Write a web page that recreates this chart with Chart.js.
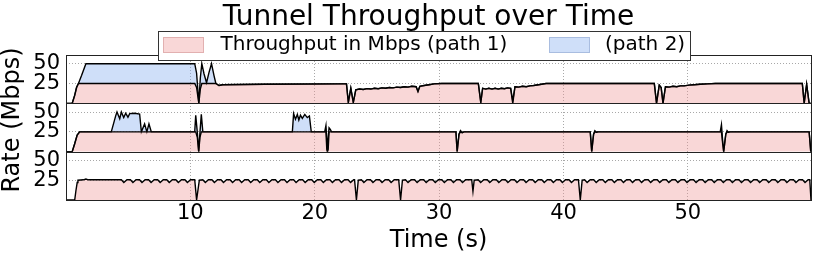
<!DOCTYPE html>
<html>
<head>
<meta charset="utf-8">
<title>Tunnel Throughput over Time</title>
<script src="https://cdn.jsdelivr.net/npm/chart.js@4.4.1/dist/chart.umd.min.js"></script>
<style>
  html, body { margin: 0; padding: 0; background: #fff; }
  #wrap { width: 814px; height: 256px; }
</style>
</head>
<body>
<div id="wrap"><canvas id="tunnelChart" width="814" height="256"></canvas></div>
<script>
// ---------- data (seconds / Mbps) ----------
const xTicks = [10, 20, 30, 40, 50];
const yTicks = [25, 50];

// panel 1
const p1Time = [
  0, 0.5, 0.7, 0.85, 1.0, 1.25, 1.6, 10.35, 10.5, 10.68, 10.8, 10.92, 11.1, 11.3, 11.5, 11.7, 11.9, 12.05,
  12.3, 12.6, 16, 22.3, 22.55, 22.7, 22.9, 23.1, 23.3, 23.6, 23.9, 24.2, 24.5, 24.8, 25.1, 25.4, 25.7,
  26.0, 26.3, 26.6, 26.9, 27.2, 27.5, 27.8, 28.15, 28.3, 28.45, 28.8, 29.2, 29.6, 30.2,
  33.15, 33.35, 33.5, 33.75, 34.0, 34.25, 34.5, 34.75, 35.0, 35.25, 35.5, 35.75, 35.92, 36.1, 36.4,
  36.7, 37.0, 37.3, 37.6, 38.0, 38.6,
  47.3, 47.48, 47.7, 47.85, 48.0, 48.2, 48.5, 48.8, 49.1, 49.4, 49.7, 50.1, 50.5, 51.0, 51.6, 52.2,
  59.2, 59.35, 59.55, 59.75, 59.9
];
const p1Path1 = [
  0, 0, 10, 20, 25, 25, 25, 25, 20, 0, 18, 25, 25, 25, 25, 25, 25, 25,
  22.5, 23.5, 24, 24.5, 24.5, 1, 19, 1, 17, 18, 17.5, 18.5, 18, 19, 18.5, 19.5, 19,
  20, 19.5, 20.5, 20, 21, 20.5, 21.5, 21, 15, 21.5, 22.5, 23.5, 24.5, 25,
  25, 1, 19, 18, 19, 18, 19, 18, 19, 18.5, 19.5, 19, 0, 21, 20.5,
  21.5, 21, 22, 22.5, 23.5, 25,
  25, 0, 23, 20, 0, 21, 20.5, 21.5, 21, 22, 22, 23, 23.5, 24, 24.5, 25,
  25, 0, 24, 0, 0
];
const p1Path2 = [
  0, 0, 0, 0, 0, 10, 25, 25, 18, 0, 14, 25, 12, 1, 14, 25, 10, 0,
  0, 0, 0, 0, 0, 0, 0, 0, 0, 0, 0, 0, 0, 0, 0, 0, 0,
  0, 0, 0, 0, 0, 0, 0, 0, 0, 0, 0, 0, 0, 0,
  0, 0, 0, 0, 0, 0, 0, 0, 0, 0, 0, 0, 3, 0, 0,
  0, 0, 0, 0, 0, 0,
  0, 0, 0, 0, 0, 0, 0, 0, 0, 0, 0, 0, 0, 0, 0, 0,
  0, 0, 0, 0, 0
];

// panel 2
const p2Time = [
  0, 0.5, 0.7, 0.9, 1.1, 3.64, 4.0, 4.1, 4.32, 4.45, 4.64, 4.8, 4.98, 5.12, 5.5, 5.92, 6.06,
  6.32, 6.5, 6.67, 6.86, 10.35, 10.43, 10.56, 10.67, 10.77, 10.88, 11.0,
  18.2, 18.3, 18.45, 18.6, 18.72, 18.85, 19.0, 19.2, 19.4, 19.57, 19.72,
  20.8, 20.9, 20.97, 21.02, 21.08, 21.15, 21.25, 21.35,
  31.35, 31.45, 31.6, 31.72, 31.85, 32.0,
  42.15, 42.27, 42.42, 42.52, 42.65, 42.8,
  52.6, 52.7, 52.8, 52.88, 53.05, 53.15, 53.25, 53.4,
  59.75, 59.88
];
const p2Path1 = [
  0, 0, 10, 21, 25, 25, 25, 25, 25, 25, 25, 25, 25, 25, 25, 25, 25,
  25, 25, 25, 25, 25, 25, 18, 0, 18, 25, 25,
  25, 25, 25, 25, 25, 25, 25, 25, 25, 25, 25,
  25, 25, 3, 0, 3, 25, 25, 25,
  25, 0, 22, 25, 24, 25,
  25, 0, 22, 25, 24.5, 25,
  25, 25, 10, 0, 22, 25, 24.5, 25,
  25, 0
];
const p2Path2 = [
  0, 0, 0, 0, 0, 0, 20.5, 25, 16.5, 25, 18, 23.5, 18.5, 23, 23.5, 22.5, 0,
  10, 0, 10, 0, 0, 21, 6, 0, 6, 22, 0,
  0, 23, 16, 22, 15, 21, 17, 22, 18, 20, 0,
  0, 8, 12, 0, 14, 5, 3, 0,
  0, 0, 0, 1.5, 0, 0,
  0, 0, 0, 1.5, 0, 0,
  0, 9, 3, 0, 0, 1.5, 0, 0,
  0, 0
];

// panel 3 (path 2 stays at zero here)
const p3Time = [
  0, 0.7, 0.8, 0.9, 0.96, 1.4, 1.6, 1.8,
  4.45, 4.65, 4.9, 5.18, 5.38, 5.63, 5.91, 6.11, 6.36, 6.64, 6.84, 7.09,
  7.37, 7.57, 7.82, 8.1, 8.3, 8.55, 8.83, 9.03, 9.28, 9.56, 9.76, 10.01,
  10.35, 10.5, 10.72,
  11.0, 11.2, 11.45, 11.73, 11.93, 12.18, 12.46, 12.66, 12.91, 13.19, 13.39, 13.64,
  13.92, 14.12, 14.37, 14.65, 14.85, 15.1, 15.38, 15.58, 15.83, 16.11, 16.31, 16.56,
  16.84, 17.04, 17.29, 17.57, 17.77, 18.02, 18.3, 18.5, 18.75, 19.03, 19.23, 19.48,
  19.76, 19.96, 20.21, 20.49, 20.69, 20.94, 21.22, 21.42, 21.67, 21.95, 22.15, 22.4,
  22.68, 22.88, 23.13,
  23.2, 23.35, 23.5,
  23.75, 23.95, 24.2, 24.48, 24.68, 24.93, 25.21, 25.41, 25.66, 25.94, 26.14, 26.39,
  26.75, 26.9, 27.05,
  27.3, 27.5, 27.75, 28.03, 28.23, 28.48, 28.76, 28.96, 29.21, 29.49, 29.69, 29.94,
  30.22, 30.42, 30.67, 30.95, 31.15, 31.4, 31.68, 31.88, 32.13,
  32.62, 32.72, 32.82,
  33.14, 33.34, 33.59, 33.87, 34.07, 34.32, 34.6, 34.8, 35.05, 35.33, 35.53, 35.78,
  36.06, 36.26, 36.51, 36.79, 36.99, 37.24, 37.52, 37.72, 37.97, 38.25, 38.45, 38.7,
  38.98, 39.18, 39.43, 39.71, 39.91, 40.16, 40.44, 40.64, 40.89,
  41.2, 41.35, 41.5,
  41.7, 41.9, 42.15, 42.43, 42.63, 42.88, 43.16, 43.36, 43.61, 43.89, 44.09, 44.34,
  44.62, 44.82, 45.07, 45.35, 45.55, 45.8, 46.08, 46.28, 46.53, 46.81, 47.01, 47.26,
  47.54, 47.74, 47.99, 48.27, 48.47, 48.72, 49.0, 49.2, 49.45, 49.73, 49.93, 50.18,
  50.46, 50.66, 50.91, 51.19, 51.39, 51.64, 51.92, 52.12, 52.37, 52.65, 52.85, 53.1,
  53.38, 53.58, 53.83, 54.11, 54.31, 54.56, 54.84, 55.04, 55.29, 55.57, 55.77, 56.02,
  56.3, 56.5, 56.75, 57.03, 57.23, 57.48, 57.76, 57.96, 58.21, 58.49, 58.69, 58.94,
  59.22, 59.42, 59.67,
  59.8, 59.9
];
const p3Path1 = [
  0, 0, 12, 22, 25, 25.5, 26.5, 25.5,
  25.5, 22, 25.5, 25.5, 22, 25.5, 25.5, 22, 25.5, 25.5, 22, 25.5,
  25.5, 22, 25.5, 25.5, 22, 25.5, 25.5, 22, 25.5, 25.5, 22, 25.5,
  25.5, 0, 25,
  25.5, 22, 25.5, 25.5, 22, 25.5, 25.5, 22, 25.5, 25.5, 22, 25.5,
  25.5, 22, 25.5, 25.5, 22, 25.5, 25.5, 22, 25.5, 25.5, 22, 25.5,
  25.5, 22, 25.5, 25.5, 22, 25.5, 25.5, 22, 25.5, 25.5, 22, 25.5,
  25.5, 22, 25.5, 25.5, 22, 25.5, 25.5, 22, 25.5, 25.5, 22, 25.5,
  25.5, 22, 25.5,
  25.5, 0, 25,
  25.5, 22, 25.5, 25.5, 22, 25.5, 25.5, 22, 25.5, 25.5, 22, 25.5,
  25.5, 0, 25,
  25.5, 22, 25.5, 25.5, 22, 25.5, 25.5, 22, 25.5, 25.5, 22, 25.5,
  25.5, 22, 25.5, 25.5, 22, 25.5, 25.5, 22, 25.5,
  25.5, 11, 25,
  25.5, 22, 25.5, 25.5, 22, 25.5, 25.5, 22, 25.5, 25.5, 22, 25.5,
  25.5, 22, 25.5, 25.5, 22, 25.5, 25.5, 22, 25.5, 25.5, 22, 25.5,
  25.5, 22, 25.5, 25.5, 22, 25.5, 25.5, 22, 25.5,
  25.5, 0, 25,
  25.5, 22, 25.5, 25.5, 22, 25.5, 25.5, 22, 25.5, 25.5, 22, 25.5,
  25.5, 22, 25.5, 25.5, 22, 25.5, 25.5, 22, 25.5, 25.5, 22, 25.5,
  25.5, 22, 25.5, 25.5, 22, 25.5, 25.5, 22, 25.5, 25.5, 22, 25.5,
  25.5, 22, 25.5, 25.5, 22, 25.5, 25.5, 22, 25.5, 25.5, 22, 25.5,
  25.5, 22, 25.5, 25.5, 22, 25.5, 25.5, 22, 25.5, 25.5, 22, 25.5,
  25.5, 22, 25.5, 25.5, 22, 25.5, 25.5, 22, 25.5, 25.5, 22, 25.5,
  25.5, 22, 25.5,
  25.5, 0
];

const legendLabels = ['Throughput in Mbps (path 1)', '(path 2)'];

// ---------- styling ----------
const PINK = 'rgba(238, 150, 150, 0.38)';
const BLUE = 'rgba(128, 170, 240, 0.38)';
const GRID = '#a8a8a8';
const FONT = "'DejaVu Sans', sans-serif";
const X_MAX = 59.9;
const Y_MAX = 61;

Chart.defaults.font.family = FONT;
Chart.defaults.color = '#000';

const series = (times, values) => times.map((t, i) => ({ x: t, y: values[i] }));

const lineStyle = {
    borderColor: '#000',
    borderWidth: 1.4,
    pointRadius: 0,
    pointHoverRadius: 0,
    tension: 0,
};

function panelAxis(weight) {
    return {
        type: 'linear',
        position: 'left',
        stack: 'panels',
        stackWeight: 1,
        weight: weight,
        stacked: true,
        min: 0,
        max: Y_MAX,
        afterBuildTicks: s => { s.ticks = yTicks.map(v => ({ value: v })); },
        afterFit: s => { s.width = 66; },
        ticks: { autoSkip: false, padding: 6, font: { size: 21 } },
        grid: { color: GRID, drawTicks: false },
        border: { display: false, dash: [1, 2] },
    };
}

// frames round each panel + title, y label and the boxed legend
const decorations = {
    id: 'decorations',
    afterDatasetsDraw(chart) {
        const { ctx, chartArea } = chart;
        ctx.save();
        ctx.strokeStyle = '#222';
        ctx.lineWidth = 1;
        ['yTop', 'yMid', 'yBot'].forEach(id => {
            const s = chart.scales[id];
            const top = Math.round(s.top) + 0.5;
            const bottom = Math.round(s.bottom) + 0.5;
            const left = Math.round(chartArea.left) + 0.5;
            const right = Math.round(chartArea.right) + 0.5;
            ctx.strokeRect(left, top, right - left, bottom - top);
        });
        ctx.restore();
    },
    afterDraw(chart) {
        const ctx = chart.ctx;
        ctx.save();
        ctx.fillStyle = '#000';

        // title
        ctx.font = `28px ${FONT}`;
        ctx.textAlign = 'center';
        ctx.textBaseline = 'alphabetic';
        ctx.fillText('Tunnel Throughput over Time', 428.5, 25);

        // y label
        ctx.save();
        ctx.translate(13, 120);
        ctx.rotate(-Math.PI / 2);
        ctx.font = `24px ${FONT}`;
        ctx.textBaseline = 'middle';
        ctx.fillText('Rate (Mbps)', 0, 0);
        ctx.restore();

        // legend box
        ctx.fillStyle = '#fff';
        ctx.fillRect(158, 31.5, 533, 29.5);
        ctx.strokeStyle = '#333';
        ctx.lineWidth = 1;
        ctx.strokeRect(158.5, 31.5, 532, 29);

        const swatches = [
            { x: 163.5, fill: PINK, edge: '#e2b0b0', textX: 220.5 },
            { x: 549.5, fill: BLUE, edge: '#a9bde0', textX: 605 },
        ];
        ctx.font = `20px ${FONT}`;
        ctx.textAlign = 'left';
        swatches.forEach((sw, i) => {
            ctx.fillStyle = sw.fill;
            ctx.fillRect(sw.x, 37.5, 40, 15);
            ctx.strokeStyle = sw.edge;
            ctx.strokeRect(sw.x, 37.5, 40, 15);
            ctx.fillStyle = '#000';
            ctx.fillText(legendLabels[i], sw.textX, 50);
        });
        ctx.restore();
    },
};

new Chart(document.getElementById('tunnelChart'), {
    type: 'line',
    data: {
        datasets: [
            { label: legendLabels[0], data: series(p1Time, p1Path1), yAxisID: 'yTop', fill: 'origin', backgroundColor: PINK, ...lineStyle },
            { label: legendLabels[1], data: series(p1Time, p1Path2), yAxisID: 'yTop', fill: '-1', backgroundColor: BLUE, ...lineStyle },
            { label: 'path 1 (run 2)', data: series(p2Time, p2Path1), yAxisID: 'yMid', fill: 'origin', backgroundColor: PINK, ...lineStyle },
            { label: 'path 2 (run 2)', data: series(p2Time, p2Path2), yAxisID: 'yMid', fill: '-1', backgroundColor: BLUE, ...lineStyle },
            { label: 'path 1 (run 3)', data: series(p3Time, p3Path1), yAxisID: 'yBot', fill: 'origin', backgroundColor: PINK, ...lineStyle },
        ],
    },
    options: {
        responsive: false,
        animation: false,
        devicePixelRatio: 1,
        events: [],
        layout: { padding: { top: 55, right: 3, bottom: 0, left: 0 } },
        plugins: {
            legend: { display: false },
            title: { display: false },
            tooltip: { enabled: false },
        },
        scales: {
            x: {
                type: 'linear',
                min: 0,
                max: X_MAX,
                afterBuildTicks: s => { s.ticks = xTicks.map(v => ({ value: v })); },
                afterFit: s => { s.height = 56; },
                ticks: { autoSkip: false, maxRotation: 0, padding: 1, font: { size: 21 } },
                grid: { color: GRID, drawTicks: false },
                border: { display: false, dash: [1, 2] },
                title: { display: true, text: 'Time (s)', font: { size: 24 }, padding: { top: 0, bottom: 1 } },
            },
            yTop: panelAxis(3),
            yMid: panelAxis(2),
            yBot: panelAxis(1),
        },
    },
    plugins: [decorations],
});
</script>
</body>
</html>
